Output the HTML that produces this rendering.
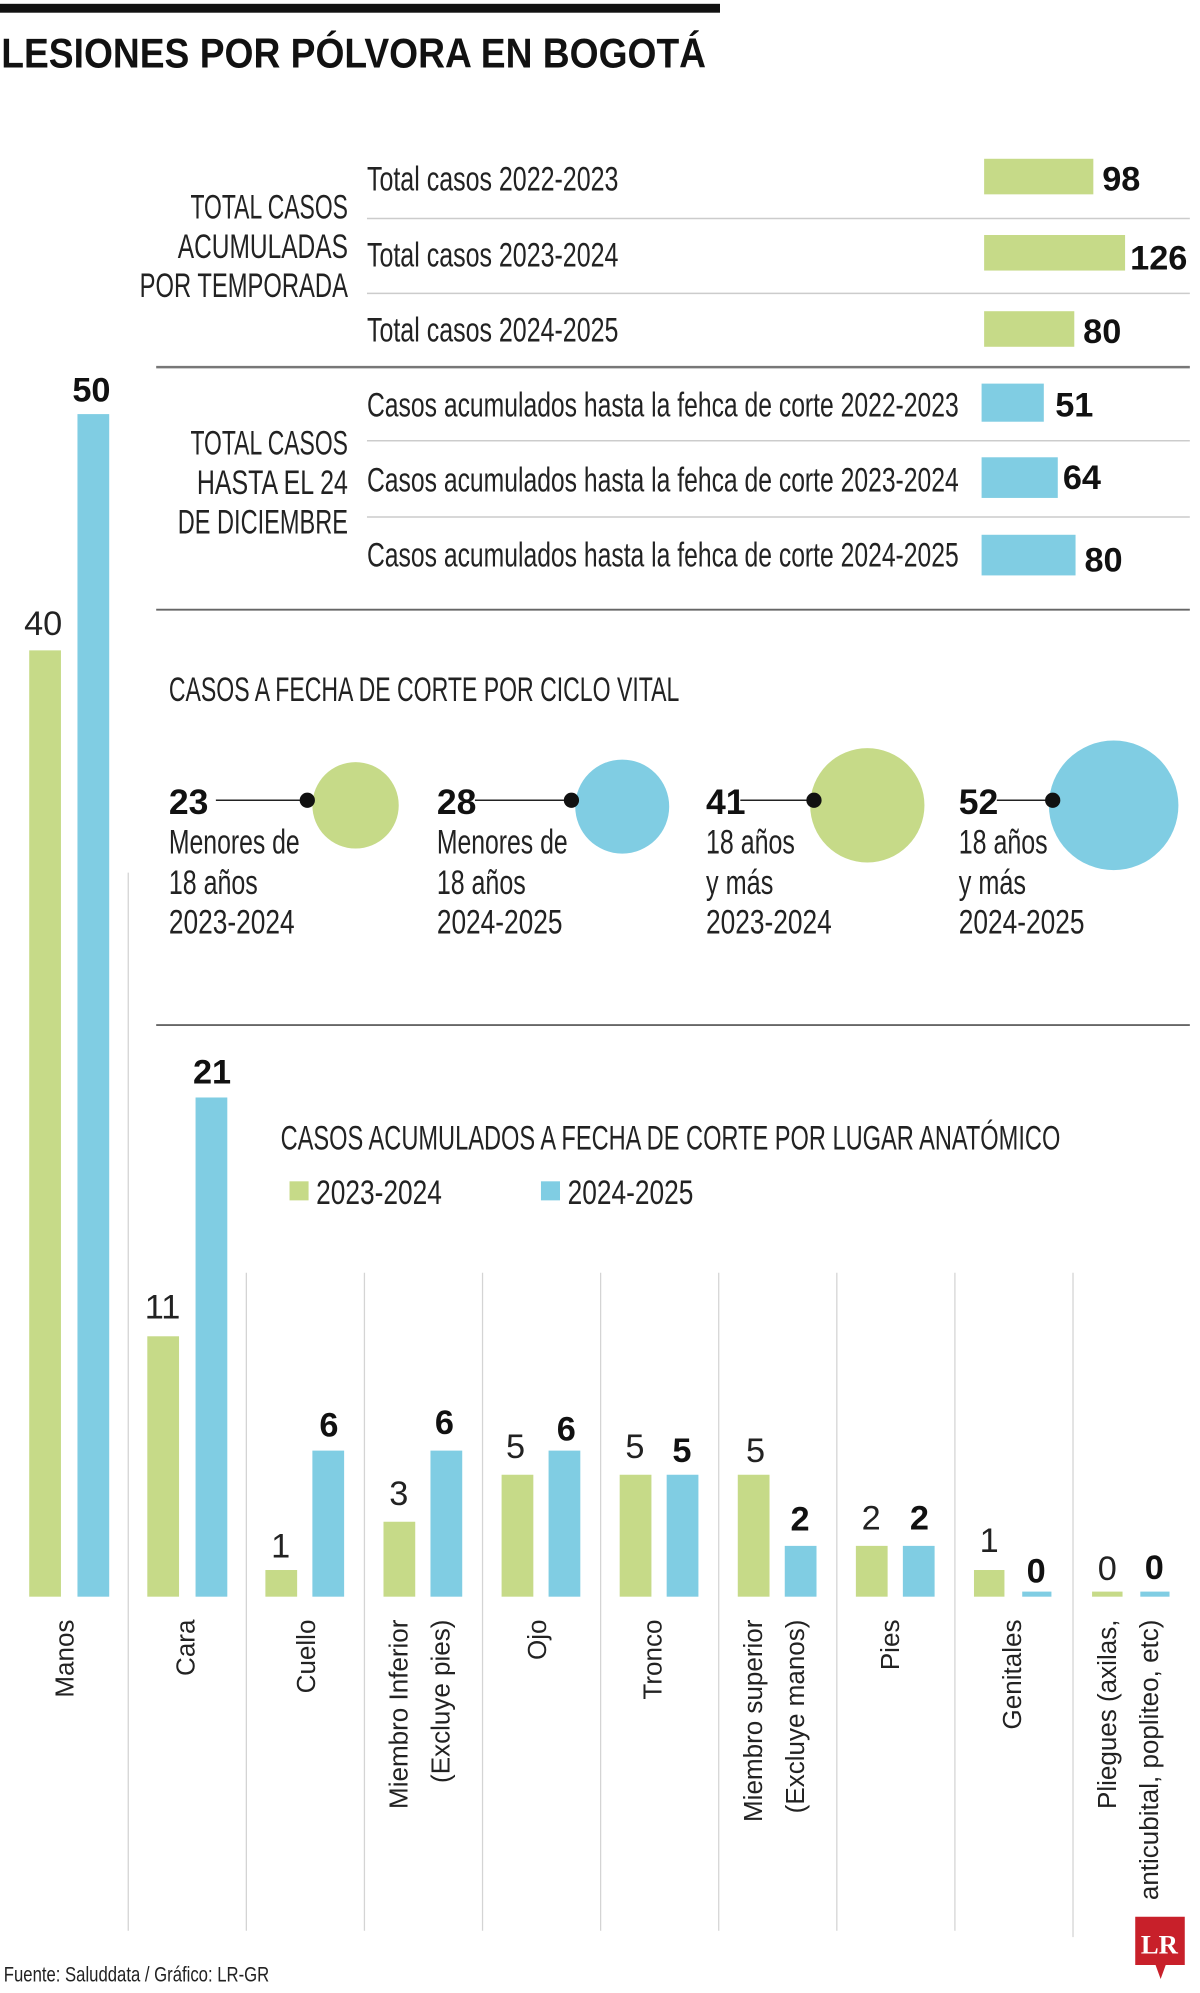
<!DOCTYPE html>
<html><head><meta charset="utf-8"><style>
html,body{margin:0;padding:0;background:#fff;}
svg{display:block;}
.c{font-family:"Liberation Sans Narrow","Liberation Sans",sans-serif;fill:#222;}
.b{font-weight:bold;fill:#111;}
.r{font-family:"Liberation Sans",sans-serif;fill:#222;font-size:20.5px;}
</style></head><body>
<svg width="1200" height="1993" viewBox="0 0 945 1569" preserveAspectRatio="none" xmlns="http://www.w3.org/2000/svg">
<rect x="0" y="3" width="567" height="7" fill="#111"/>
<text class="c b" x="1" y="53" font-size="33" textLength="555" lengthAdjust="spacingAndGlyphs">LESIONES POR PÓLVORA EN BOGOTÁ</text>

<g class="c" font-size="27" text-anchor="end">
<text x="274" y="172" textLength="124" lengthAdjust="spacingAndGlyphs">TOTAL CASOS</text>
<text x="274" y="203" textLength="134" lengthAdjust="spacingAndGlyphs">ACUMULADAS</text>
<text x="274" y="234" textLength="164" lengthAdjust="spacingAndGlyphs">POR TEMPORADA</text>
<text x="274" y="358" textLength="124" lengthAdjust="spacingAndGlyphs">TOTAL CASOS</text>
<text x="274" y="389" textLength="119" lengthAdjust="spacingAndGlyphs">HASTA EL 24</text>
<text x="274" y="420" textLength="134" lengthAdjust="spacingAndGlyphs">DE DICIEMBRE</text>
</g>
<g class="c" font-size="27">
<text x="289" y="150" textLength="198" lengthAdjust="spacingAndGlyphs">Total casos 2022-2023</text>
<text x="289" y="210" textLength="198" lengthAdjust="spacingAndGlyphs">Total casos 2023-2024</text>
<text x="289" y="269" textLength="198" lengthAdjust="spacingAndGlyphs">Total casos 2024-2025</text>
<text x="289" y="328" textLength="466" lengthAdjust="spacingAndGlyphs">Casos acumulados hasta la fehca de corte 2022-2023</text>
<text x="289" y="387" textLength="466" lengthAdjust="spacingAndGlyphs">Casos acumulados hasta la fehca de corte 2023-2024</text>
<text x="289" y="446" textLength="466" lengthAdjust="spacingAndGlyphs">Casos acumulados hasta la fehca de corte 2024-2025</text>
</g>
<g stroke="#ccc" stroke-width="1.2">
<line x1="289" y1="172" x2="937" y2="172"/><line x1="289" y1="231" x2="937" y2="231"/>
<line x1="289" y1="347" x2="937" y2="347"/><line x1="289" y1="407" x2="937" y2="407"/>
</g>
<line x1="123" y1="289" x2="937" y2="289" stroke="#777" stroke-width="2"/>
<line x1="123" y1="480" x2="937" y2="480" stroke="#666" stroke-width="1.5"/>
<line x1="123" y1="807" x2="937" y2="807" stroke="#666" stroke-width="1.5"/>

<g fill="#c6da88">
<rect x="775" y="125" width="86" height="28"/><rect x="775" y="185" width="111" height="28"/><rect x="775" y="245" width="71" height="28"/>
</g>
<g fill="#80cde3">
<rect x="773" y="302" width="49" height="30"/><rect x="773" y="360" width="60" height="32"/><rect x="773" y="421" width="74" height="32"/>
</g>
<g class="c b" font-size="27">
<text x="868" y="150">98</text><text x="890" y="212">126</text><text x="853" y="270">80</text>
<text x="831" y="328">51</text><text x="837" y="385">64</text><text x="854" y="450">80</text>
</g>

<text class="c" x="133" y="552" font-size="27" textLength="402" lengthAdjust="spacingAndGlyphs">CASOS A FECHA DE CORTE POR CICLO VITAL</text>
<g stroke="#222" stroke-width="1.2">
<line x1="170" y1="630" x2="242" y2="630"/><line x1="374" y1="630" x2="450" y2="630"/>
<line x1="583" y1="630" x2="641" y2="630"/><line x1="785" y1="630" x2="829" y2="630"/>
</g>
<circle cx="280" cy="634" r="34" fill="#c6da88"/><circle cx="490" cy="635" r="37" fill="#80cde3"/>
<circle cx="683" cy="634" r="45" fill="#c6da88"/><circle cx="877" cy="634" r="51" fill="#80cde3"/>
<g fill="#111"><circle cx="242" cy="630" r="6"/><circle cx="450" cy="630" r="6"/><circle cx="641" cy="630" r="6"/><circle cx="829" cy="630" r="6"/></g>
<g class="c b" font-size="28">
<text x="133" y="641">23</text><text x="344" y="641">28</text><text x="556" y="641">41</text><text x="755" y="641">52</text>
</g>
<g class="c" font-size="27">
<text x="133" y="672" textLength="103" lengthAdjust="spacingAndGlyphs">Menores de</text>
<text x="133" y="704" textLength="70" lengthAdjust="spacingAndGlyphs">18 años</text>
<text x="133" y="735" textLength="99" lengthAdjust="spacingAndGlyphs">2023-2024</text>
<text x="344" y="672" textLength="103" lengthAdjust="spacingAndGlyphs">Menores de</text>
<text x="344" y="704" textLength="70" lengthAdjust="spacingAndGlyphs">18 años</text>
<text x="344" y="735" textLength="99" lengthAdjust="spacingAndGlyphs">2024-2025</text>
<text x="556" y="672" textLength="70" lengthAdjust="spacingAndGlyphs">18 años</text>
<text x="556" y="704" textLength="53" lengthAdjust="spacingAndGlyphs">y más</text>
<text x="556" y="735" textLength="99" lengthAdjust="spacingAndGlyphs">2023-2024</text>
<text x="755" y="672" textLength="70" lengthAdjust="spacingAndGlyphs">18 años</text>
<text x="755" y="704" textLength="53" lengthAdjust="spacingAndGlyphs">y más</text>
<text x="755" y="735" textLength="99" lengthAdjust="spacingAndGlyphs">2024-2025</text>
</g>

<text class="c" x="221" y="905" font-size="27" textLength="614" lengthAdjust="spacingAndGlyphs">CASOS ACUMULADOS A FECHA DE CORTE POR LUGAR ANATÓMICO</text>
<rect x="228" y="930" width="15" height="15" fill="#c6da88"/>
<text class="c" x="249" y="948" font-size="27" textLength="99" lengthAdjust="spacingAndGlyphs">2023-2024</text>
<rect x="426" y="930" width="15" height="15" fill="#80cde3"/>
<text class="c" x="447" y="948" font-size="27" textLength="99" lengthAdjust="spacingAndGlyphs">2024-2025</text>

<g stroke="#d4d4d4" stroke-width="1">
<line x1="101" y1="687" x2="101" y2="1520"/>
<line x1="194" y1="1002" x2="194" y2="1520"/><line x1="287" y1="1002" x2="287" y2="1520"/>
<line x1="380" y1="1002" x2="380" y2="1520"/><line x1="473" y1="1002" x2="473" y2="1520"/>
<line x1="566" y1="1002" x2="566" y2="1520"/><line x1="659" y1="1002" x2="659" y2="1520"/>
<line x1="752" y1="1002" x2="752" y2="1520"/><line x1="845" y1="1002" x2="845" y2="1525"/>
</g>

<g fill="#c6da88">
<rect x="23" y="512" width="25" height="745"/>
<rect x="116" y="1052" width="25" height="205"/>
<rect x="209" y="1236" width="25" height="21"/>
<rect x="302" y="1198" width="25" height="59"/>
<rect x="395" y="1161" width="25" height="96"/>
<rect x="488" y="1161" width="25" height="96"/>
<rect x="581" y="1161" width="25" height="96"/>
<rect x="674" y="1217" width="25" height="40"/>
<rect x="767" y="1236" width="24" height="21"/>
<rect x="860" y="1253" width="24" height="4"/>
</g>
<g fill="#80cde3">
<rect x="61" y="326" width="25" height="931"/>
<rect x="154" y="864" width="25" height="393"/>
<rect x="246" y="1142" width="25" height="115"/>
<rect x="339" y="1142" width="25" height="115"/>
<rect x="432" y="1142" width="25" height="115"/>
<rect x="525" y="1161" width="25" height="96"/>
<rect x="618" y="1217" width="25" height="40"/>
<rect x="711" y="1217" width="25" height="40"/>
<rect x="805" y="1253" width="23" height="4"/>
<rect x="898" y="1253" width="23" height="4"/>
</g>
<g class="c" font-size="27" text-anchor="middle" fill="#444">
<text x="34" y="500">40</text><text x="128" y="1038">11</text><text x="221" y="1226">1</text>
<text x="314" y="1185">3</text><text x="406" y="1148">5</text><text x="500" y="1148">5</text>
<text x="595" y="1151">5</text><text x="686" y="1204">2</text><text x="779" y="1222">1</text><text x="872" y="1244">0</text>
</g>
<g class="c b" font-size="27" text-anchor="middle">
<text x="72" y="316">50</text><text x="167" y="853">21</text><text x="259" y="1131">6</text>
<text x="350" y="1129">6</text><text x="446" y="1134">6</text><text x="537" y="1151">5</text>
<text x="630" y="1205">2</text><text x="724" y="1204">2</text><text x="816" y="1246">0</text><text x="909" y="1243">0</text>
</g>

<g class="r" text-anchor="end">
<text transform="translate(58,1275) rotate(-90)">Manos</text>
<text transform="translate(153,1275) rotate(-90)">Cara</text>
<text transform="translate(248,1275) rotate(-90)">Cuello</text>
<text transform="translate(321,1275) rotate(-90)">Miembro Inferior</text>
<text transform="translate(354,1275) rotate(-90)">(Excluye pies)</text>
<text transform="translate(430,1275) rotate(-90)">Ojo</text>
<text transform="translate(521,1275) rotate(-90)">Tronco</text>
<text transform="translate(600,1275) rotate(-90)">Miembro superior</text>
<text transform="translate(633,1275) rotate(-90)">(Excluye manos)</text>
<text transform="translate(708,1275) rotate(-90)">Pies</text>
<text transform="translate(804,1275) rotate(-90)">Genitales</text>
<text transform="translate(879,1275) rotate(-90)">Pliegues (axilas,</text>
<text transform="translate(912,1275) rotate(-90)">anticubital, popliteo, etc)</text>
</g>

<text class="c" x="3" y="1560" font-size="17" textLength="209" lengthAdjust="spacingAndGlyphs">Fuente: Saluddata / Gráfico: LR-GR</text>
<path d="M894,1509 H933 V1547 H918 L914,1558 L910,1547 H894 Z" fill="#c8202a"/>
<text x="913" y="1538" font-family="Liberation Serif,serif" font-weight="bold" font-size="21" fill="#fff" text-anchor="middle">LR</text>
</svg>
</body></html>
